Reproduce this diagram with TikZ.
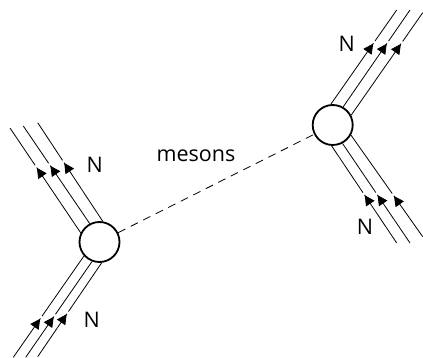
\documentclass[tikz,border=0pt]{standalone}
\usepackage{fontspec}
\setmainfont{Open Sans}
\usetikzlibrary{arrows.meta, decorations.markings}

\tikzset{
    blob/.style={circle, draw, line width=1.8pt, fill=white, minimum size=40pt, inner sep=0pt},
    leg/.style={line width=0.8pt, postaction={decorate}, decoration={markings, mark=at position #1 with {
        \pgftransformxshift{5pt}
        \fill[white] (0.5pt,-1pt) rectangle (3pt,1pt);
        \arrow{Triangle[length=10pt, width=10pt]}}}},
    label/.style={font=\fontsize{21.5}{25}\selectfont}
}

\begin{document}
\begin{tikzpicture}[x=1pt, y=-1pt]
    \useasboundingbox (0,0) rectangle (423,358);

    % Vertices
    \node[blob] (vleft) at (99.5,242) {};
    \node[blob] (vright) at (332.7,125) {};

    % Meson exchange
    \draw[dashed, line width=0.8pt, dash pattern=on 8pt off 6pt] (vleft) -- (vright);

    % Left vertex, outgoing
    \foreach \ang/\x/\y/\p in {154/10/128/0.58, 118/23.3/126/0.55, 81/37.7/122.7/0.55} {
        \draw[leg=\p] (vleft.\ang) -- (\x,\y);
    }
    % Left vertex, incoming
    \foreach \ang/\x/\y/\p in {222/13.3/357.3/0.34, 249/25.7/357.3/0.38, 276/37.7/356.7/0.41} {
        \draw[leg=\p] (\x,\y) -- (vleft.\ang);
    }
    % Right vertex, outgoing
    \foreach \ang/\x/\y/\p in {95/396.7/10/0.60, 60/410/10/0.61, 28/422.7/12.7/0.655} {
        \draw[leg=\p] (vright.\ang) -- (\x,\y);
    }
    % Right vertex, incoming
    \foreach \ang/\x/\y/\p in {267/396.7/243/0.45, 298/410/243/0.44, 331/422.7/236.7/0.36} {
        \draw[leg=\p] (\x,\y) -- (vright.\ang);
    }

    % Labels
    \node[label] (mesons) at (196,156) {mesons};
    \node[label] (nlefttop) at (94.8,165) {N};
    \node[label] (nleftbot) at (91.7,320) {N};
    \node[label] (nrighttop) at (346.7,43.7) {N};
    \node[label] (nrightbot) at (365,227) {N};
\end{tikzpicture}
\end{document}
